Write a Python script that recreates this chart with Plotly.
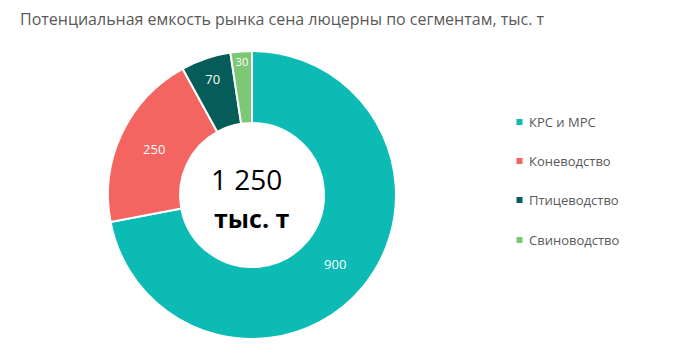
import plotly.graph_objects as go

title = "Потенциальная емкость рынка сена люцерны по сегментам, тыс. т"
categories = ["КРС и МРС", "Коневодство", "Птицеводство", "Свиноводство"]
values = [900, 250, 70, 30]
colors = ["#0BBBB4", "#F46461", "#055C58", "#7DC875"]
total_label = "1 250"
unit_label = "тыс. т"

W, H = 673, 363
OFF = 8  # page body margin offset


def px(x):
    return (x - OFF) / W


def py(y):
    return 1 - (y - OFF) / H


cx, cy, r = 252, 195, 144

fig = go.Figure()
fig.add_trace(go.Pie(
    labels=categories, values=values, sort=False, direction="clockwise",
    rotation=0, hole=0.5,
    marker=dict(colors=colors, line=dict(color="white", width=2)),
    textinfo="value", textposition="inside", insidetextorientation="horizontal",
    textfont=dict(color="white", size=13, family="Open Sans"),
    showlegend=False,
    domain=dict(x=[px(cx - r), px(cx + r)], y=[py(cy + r), py(cy - r)]),
))

fig.add_annotation(text=total_label, x=px(cx - 6), y=py(179), xref="paper", yref="paper",
                   showarrow=False, font=dict(size=28, color="black", family="Open Sans"))
fig.add_annotation(text="<b>" + unit_label + "</b>", x=px(cx + 0), y=py(218), xref="paper", yref="paper",
                   showarrow=False, font=dict(size=25, color="black", family="Open Sans"))

# legend
leg_y = [122, 161, 200, 240]
for c, col, yy in zip(categories, colors, leg_y):
    fig.add_shape(type="rect", xref="paper", yref="paper",
                  x0=px(516.5), x1=px(522.5), y0=py(yy + 3), y1=py(yy - 3),
                  fillcolor=col, line=dict(width=0))
    fig.add_annotation(text=c, x=px(527), y=py(yy), xref="paper", yref="paper",
                       xanchor="left", yanchor="middle", showarrow=False,
                       font=dict(size=13, color="#595959", family="Open Sans"))

fig.update_layout(
    width=W, height=H,
    margin=dict(l=0, r=0, t=0, b=0),
    paper_bgcolor="white", plot_bgcolor="white",
    showlegend=False,
    title=dict(text=title, x=px(20), xanchor="left", y=py(19), yanchor="middle",
               font=dict(size=16, color="#595959", family="Open Sans")),
)
fig.write_html("out.html")
